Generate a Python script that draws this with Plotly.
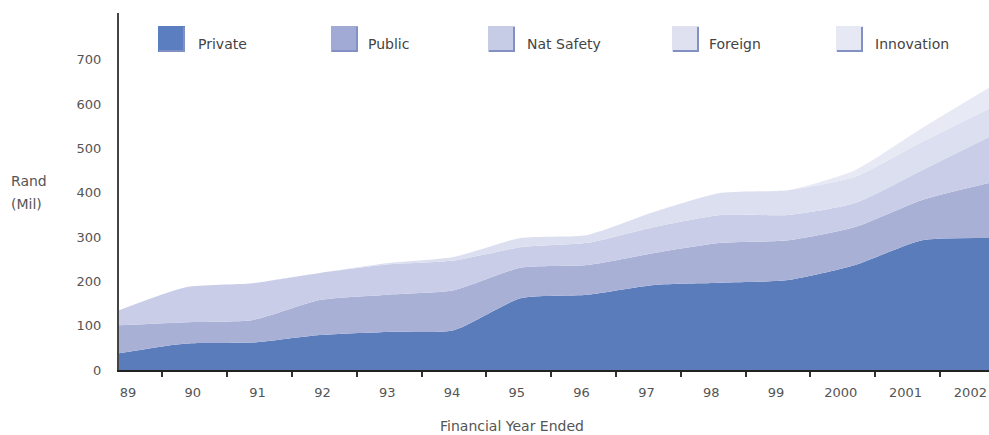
import plotly.graph_objects as go

# Financial years and funding per source (Rand, millions)
years = ["89", "90", "91", "92", "93", "94", "95", "96", "97", "98", "99", "2000", "2001", "2002"]
private = [38, 60, 62, 79, 86, 90, 162, 170, 192, 197, 203, 237, 293, 298]
public = [63, 48, 51, 79, 84, 90, 69, 67, 72, 90, 90, 86, 91, 124]
nat_safety = [34, 79, 83, 61, 68, 67, 46, 50, 59, 63, 57, 54, 67, 104]
foreign = [0, 0, 0, 0, 3, 8, 21, 18, 34, 50, 56, 59, 64, 64]
innovation = [0, 0, 0, 0, 0, 0, 0, 0, 0, 0, 0, 15, 31, 47]

series_names = ["Private", "Public", "Nat Safety", "Foreign", "Innovation"]
series_values = [private, public, nat_safety, foreign, innovation]
fill_colors = ["#5a7cba", "#a8b0d6", "#c9cde7", "#dcdff0", "#e7e9f5"]
swatch_colors = ["#5b7ec0", "#a0aad4", "#c6cbe6", "#dfe1f1", "#e6e8f4"]
y_ticks = [0, 100, 200, 300, 400, 500, 600, 700]

W, H = 989, 435
L, R, T, B = 119, 0, 13, 65
plot_w = W - L - R
plot_h = H - T - B

FONT = "DejaVu Sans"
TXT = "#555"

fig = go.Figure()
xs = list(range(len(years)))
for name, vals, col in zip(series_names, series_values, fill_colors):
    fig.add_trace(go.Scatter(
        x=xs, y=vals, name=name, mode="lines", stackgroup="one",
        line=dict(width=0, shape="spline", smoothing=0.6, color=col),
        fillcolor=col, showlegend=False, hoverinfo="x+y+name",
    ))


def px_x(p):
    return (p - L) / plot_w


def px_y(p):
    return (H - B - p) / plot_h


# Year labels sit centred in columns slightly narrower than the data spacing
unit = plot_w / (len(years) - 1)
label_unit = 64.8
label_first = 128


def label_pos(k):
    return (label_first + label_unit * k - L) / unit


# Legend drawn as bevelled swatches with labels across the top
legend_x = [158, 331, 488, 672, 836]
text_x = [196, 366, 525, 707, 873]
shapes = []
annotations = []
for sx, tx, name, col in zip(legend_x, text_x, series_names, swatch_colors):
    shapes.append(dict(type="rect", xref="paper", yref="paper",
                       x0=px_x(sx), x1=px_x(sx + 27), y0=px_y(52), y1=px_y(26),
                       fillcolor=col, line=dict(width=0), layer="above"))
    # darker right and bottom edges for the bevel
    shapes.append(dict(type="line", xref="paper", yref="paper",
                       x0=px_x(sx + 26), x1=px_x(sx + 26), y0=px_y(52), y1=px_y(27),
                       line=dict(color="#8390c4", width=2), layer="above"))
    shapes.append(dict(type="line", xref="paper", yref="paper",
                       x0=px_x(sx + 1), x1=px_x(sx + 27), y0=px_y(51), y1=px_y(51),
                       line=dict(color="#8390c4", width=2), layer="above"))
    annotations.append(dict(text=name, xref="paper", yref="paper",
                            x=px_x(tx), y=px_y(44), xanchor="left", yanchor="middle",
                            showarrow=False, font=dict(family=FONT, size=14, color="#444")))

for line_txt, cy in (("Rand", 181), ("(Mil)", 204)):
    annotations.append(dict(text=line_txt, xref="paper", yref="paper",
                            x=px_x(9), y=px_y(cy), xanchor="left", yanchor="middle",
                            showarrow=False, font=dict(family=FONT, size=14, color=TXT)))

annotations.append(dict(text="Financial Year Ended", xref="paper", yref="paper",
                        x=px_x(512), y=px_y(426), xanchor="center", yanchor="middle",
                        showarrow=False, font=dict(family=FONT, size=14, color=TXT)))

fig.update_layout(
    width=W, height=H,
    margin=dict(l=L, r=R, t=T, b=B),
    paper_bgcolor="white", plot_bgcolor="white",
    shapes=shapes, annotations=annotations,
    font=dict(family=FONT, color=TXT),
    xaxis=dict(
        range=[0, len(years) - 1],
        tickvals=[label_pos(k) for k in xs], ticktext=years,
        ticks="", showgrid=False, zeroline=False,
        showline=True, linecolor="#222", linewidth=2, ticklabelstandoff=9,
        tickfont=dict(family=FONT, size=13, color=TXT),
        minor=dict(tickvals=[label_pos(k + 0.53) for k in xs[:-1]], ticks="outside",
                   ticklen=5, tickwidth=2, tickcolor="#333", showgrid=False),
        fixedrange=True,
    ),
    yaxis=dict(
        range=[0, (H - B - T) / 0.443],
        tickvals=y_ticks, ticks="", showgrid=False, zeroline=False,
        showline=True, linecolor="#444", linewidth=2, ticklabelstandoff=13,
        tickfont=dict(family=FONT, size=13, color=TXT),
        fixedrange=True,
    ),
)

fig.write_html("out.html")
